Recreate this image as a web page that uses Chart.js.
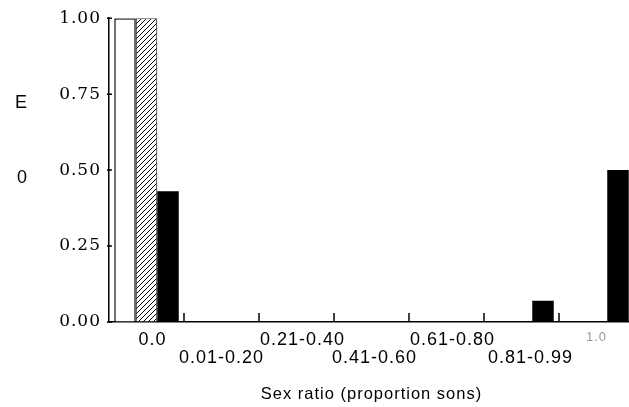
<!DOCTYPE html>
<html>
<head>
<meta charset="utf-8">
<script src="https://cdn.jsdelivr.net/npm/chart.js@4"></script>
<style>
  html, body { margin: 0; padding: 0; background: #fff; overflow: hidden; }
  #wrap { width: 640px; height: 407px; }
</style>
</head>
<body>
<div id="wrap"><canvas id="bar-chart"></canvas></div>
<script>
var categorie = ['0.0', '0.01-0.20', '0.21-0.40', '0.41-0.60', '0.61-0.80', '0.81-0.99', '1.0'];
var serieVuota = [1.00, 0, 0, 0, 0, 0, 0];
var serieTratteggiata = [1.00, 0, 0, 0, 0, 0, 0];
var serieNera = [0.43, 0, 0, 0, 0, 0.07, 0.50];
var tickY = [0, 0.25, 0.5, 0.75, 1];

function tratteggio() {
    var c = document.createElement('canvas');
    c.width = 5; c.height = 5;
    var g = c.getContext('2d');
    g.fillStyle = '#fff';
    g.fillRect(0, 0, 5, 5);
    g.strokeStyle = '#000';
    g.lineWidth = 1;
    g.beginPath();
    g.moveTo(-1, 6); g.lineTo(6, -1);
    g.moveTo(-1, 1); g.lineTo(1, -1);
    g.moveTo(4, 6); g.lineTo(6, 4);
    g.stroke();
    return g.createPattern(c, 'repeat');
}

// spaziatura un po' larga come nella scansione
function spaziatura(chart) { chart.ctx.letterSpacing = '1px'; }

// le etichette nella scansione sono un po' spostate a destra
function etichetta(i) {
    var spazi = [2, 0, 2, 1, 2, 3, 0][i];
    return '\u00a0'.repeat(spazi) + categorie[i];
}

var extra = {
    id: 'extra',
    beforeLayout: spaziatura,
    beforeDraw: spaziatura,
    afterDraw: function(chart) {
        var ctx = chart.ctx;
        var x = chart.scales.x, y = chart.scales.y;
        var area = chart.chartArea;
        ctx.save();
        ctx.strokeStyle = '#000';
        ctx.lineWidth = 1.5;
        ctx.beginPath();
        for (var i = 1; i < categorie.length; i++) {
            var px = (x.getPixelForTick(i - 1) + x.getPixelForTick(i)) / 2;
            ctx.moveTo(px, area.bottom - 9);
            ctx.lineTo(px, area.bottom);
        }
        tickY.forEach(function(v) {
            var py = y.getPixelForValue(v);
            ctx.moveTo(area.left - 2, py);
            ctx.lineTo(area.left + 3, py);
        });
        ctx.stroke();
        ctx.fillStyle = '#000';
        ctx.letterSpacing = '0px';
        ctx.font = '18px "Liberation Sans", Arial, sans-serif';
        ctx.textAlign = 'center';
        ctx.textBaseline = 'middle';
        ctx.fillText('E', 21, 103);
        ctx.fillText('0', 22, 178);
        ctx.restore();
    }
};

var ctx = document.getElementById('bar-chart').getContext('2d');
var chart = new Chart(ctx, {
    type: 'bar',
    data: {
        labels: categorie,
        datasets: [{
            data: serieVuota,
            backgroundColor: '#fff',
            borderColor: '#000',
            borderWidth: 1.5
        }, {
            data: serieTratteggiata,
            backgroundColor: tratteggio(),
            borderColor: '#000',
            borderWidth: 1
        }, {
            data: serieNera,
            backgroundColor: '#000',
            borderWidth: 0
        }]
    },
    options: {
        responsive: true,
        maintainAspectRatio: false,
        animation: false,
        devicePixelRatio: 1,
        layout: { padding: { left: 0, right: 6, top: 15, bottom: 0 } },
        datasets: { bar: { categoryPercentage: 0.86, barPercentage: 1.0 } },
        plugins: { legend: { display: false }, tooltip: { enabled: false } },
        scales: {
            x: {
                afterFit: function(s) { s.height = 85; },
                grid: { display: true, drawOnChartArea: false, drawTicks: false },
                border: { display: true, color: '#000', width: 1.5 },
                ticks: {
                    padding: 9,
                    autoSkip: false,
                    maxRotation: 0,
                    color: function(c) { return c.index === 6 ? '#999' : '#000'; },
                    font: function(c) {
                        return { family: '"Liberation Sans", Arial, sans-serif', size: c.index === 6 ? 13 : 18, lineHeight: 1.0 };
                    },
                    callback: function(v, i) { return i % 2 === 0 ? etichetta(i) : ['', etichetta(i)]; }
                },
                title: {
                    display: true,
                    text: 'Sex ratio (proportion sons)',
                    color: '#000',
                    font: { family: '"Liberation Sans", Arial, sans-serif', size: 16.5 },
                    padding: { top: 0, bottom: 3 }
                }
            },
            y: {
                min: 0,
                max: 1,
                afterFit: function(s) { s.width = 109; },
                grid: { display: true, drawOnChartArea: false, drawTicks: false },
                border: { display: true, color: '#000', width: 1.5 },
                ticks: {
                    stepSize: 0.25,
                    padding: 8,
                    color: '#000',
                    font: { family: '"DejaVu Serif", "Liberation Serif", serif', size: 17 },
                    callback: function(v) { return v.toFixed(2); }
                }
            }
        }
    },
    plugins: [extra]
});
</script>
</body>
</html>
